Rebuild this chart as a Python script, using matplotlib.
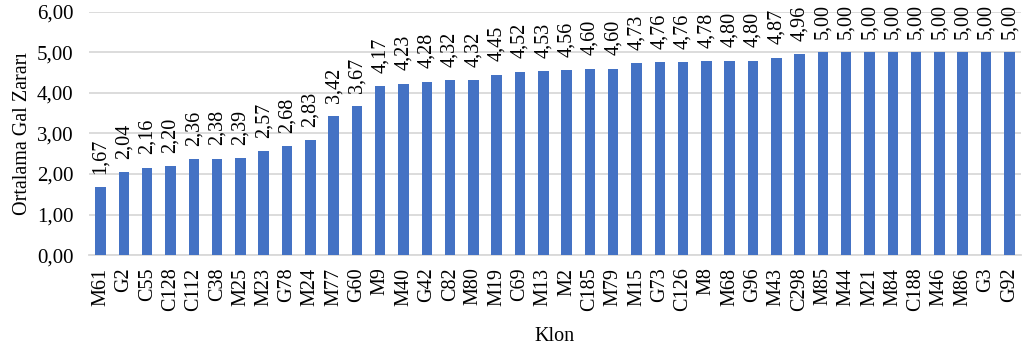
import matplotlib.pyplot as plt

plt.rcParams['font.family'] = ['Liberation Serif', 'DejaVu Serif']

clones = ["M61", "G2", "C55", "C128", "C112", "C38", "M25", "M23", "G78", "M24",
          "M77", "G60", "M9", "M40", "G42", "C82", "M80", "M19", "C69", "M13",
          "M2", "C185", "M79", "M15", "G73", "C126", "M8", "M68", "G96", "M43",
          "C298", "M85", "M44", "M21", "M84", "C188", "M46", "M86", "G3", "G92"]
damage = [1.67, 2.04, 2.16, 2.20, 2.36, 2.38, 2.39, 2.57, 2.68, 2.83,
          3.42, 3.67, 4.17, 4.23, 4.28, 4.32, 4.32, 4.45, 4.52, 4.53,
          4.56, 4.60, 4.60, 4.73, 4.76, 4.76, 4.78, 4.80, 4.80, 4.87,
          4.96, 5.00, 5.00, 5.00, 5.00, 5.00, 5.00, 5.00, 5.00, 5.00]
yticks = [0, 1, 2, 3, 4, 5, 6]

def fmt(v):
    return f"{v:.2f}".replace(".", ",")

fig = plt.figure(figsize=(10.23, 3.49), dpi=100)
ax = fig.add_axes([0.087, 0.269, 0.911, 0.697])

x = range(len(clones))
ax.bar(x, damage, width=0.45, color="#4472C4", zorder=3)
for i, v in zip(x, damage):
    ax.text(i, v + 0.33, fmt(v), rotation=90, ha="center", va="bottom",
            fontsize=14.5, color="black", clip_on=False)

ax.set_xlim(-0.5, len(clones) - 0.5)
ax.set_ylim(0, 6)
ax.set_yticks(yticks)
ax.set_yticklabels([fmt(t) for t in yticks], fontsize=15)
ax.set_xticks(list(x))
ax.set_xticklabels(clones, rotation=90, fontsize=14.5)
ax.tick_params(axis="y", length=0, pad=11)
ax.tick_params(axis="x", length=0, pad=9)
ax.grid(axis="y", color="#d9d9d9", linewidth=1.3, zorder=0)
for side in ["top", "right", "left"]:
    ax.spines[side].set_visible(False)
ax.spines["bottom"].set_color("#d9d9d9")
ax.spines["bottom"].set_linewidth(1.3)

ax.set_ylabel("Ortalama Gal Zararı", fontsize=14.5, labelpad=4)
ax.set_xlabel("Klon", fontsize=14.5, labelpad=11)

fig.savefig("out.png", dpi=100)
